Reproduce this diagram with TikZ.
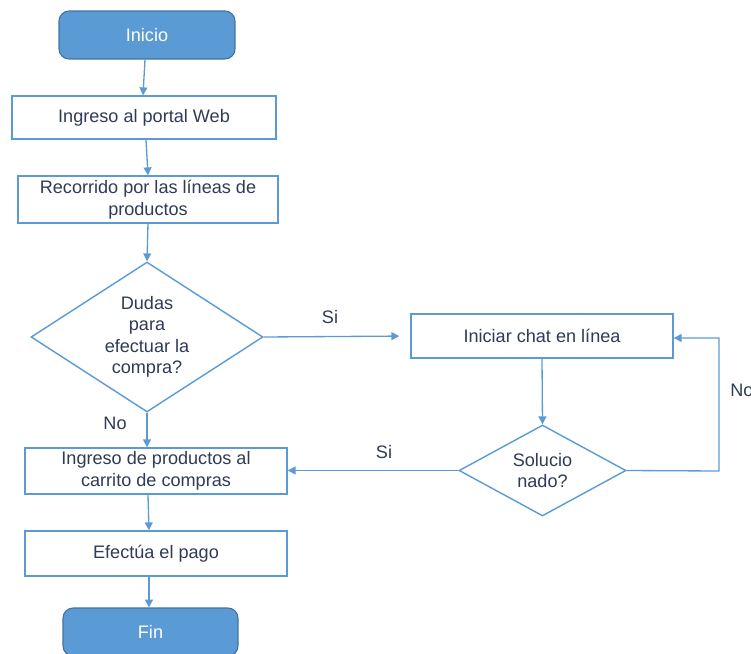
\documentclass[tikz,border=0pt]{standalone}
\usepackage{fontspec}
\setmainfont{Liberation Sans}
\usetikzlibrary{shapes.geometric,arrows.meta}
\definecolor{lineblue}{HTML}{5B9BD5}
\definecolor{fillblue}{HTML}{5B9BD5}
\definecolor{edgeblue}{HTML}{41719C}
\definecolor{txt}{HTML}{2F3B57}
\tikzset{
  px/.style={x=0.02cm,y=-0.02cm},
  base/.style={font=\fontsize{10.3}{12.2}\selectfont, text=txt, align=center, inner sep=0pt},
  procbox/.style={base, draw=lineblue, line width=0.8pt, fill=white},
  termbox/.style={base, draw=edgeblue, line width=0.6pt, fill=fillblue, text=white, rounded corners=0.2cm},
  decbox/.style={base, shape=diamond, draw=lineblue, line width=0.8pt, fill=white},
  arr/.style={draw=lineblue, line width=0.75pt, -{Triangle[width=4.5pt,length=4.5pt]}},
  lbl/.style={font=\fontsize{10.3}{12.2}\selectfont, text=txt, inner sep=0pt},
}
\begin{document}
\begin{tikzpicture}[px]
\useasboundingbox (0,0) rectangle (751,653);
\node[termbox, minimum width=3.52cm, minimum height=0.96cm] (inicio) at (147,35) {Inicio};
\node[procbox, minimum width=5.28cm, minimum height=0.86cm] (portal) at (144,117.5) {Ingreso al portal Web};
\node[procbox, minimum width=5.2cm, minimum height=0.94cm] (recorrido) at (148,199.5) {Recorrido por las líneas de\\productos};
\node[decbox, aspect=1.55, minimum width=4.64cm, minimum height=3.0cm] (dudas) at (147,337) {Dudas\\para\\efectuar la\\compra?};
\node[procbox, minimum width=5.24cm, minimum height=0.88cm] (chat) at (542,336) {Iniciar chat en línea};
\node[decbox, aspect=1.83, minimum width=3.34cm, minimum height=1.82cm] (sol) at (542.5,470.5) {Solucio\\nado?};
\node[procbox, minimum width=5.24cm, minimum height=0.92cm] (carrito) at (156,471) {Ingreso de productos al\\carrito de compras};
\node[procbox, minimum width=5.24cm, minimum height=0.9cm] (pago) at (156,553.5) {Efectúa el pago};
\node[termbox, minimum width=3.5cm, minimum height=0.96cm] (fin) at (150.5,632) {Fin};
\coordinate (loopR) at (719,471);
\coordinate (loopT) at (719,338);
\draw[arr] (inicio.south -| 145,0) -- (portal.north -| 143,0);
\draw[arr] (portal.south -| 146,0) -- (recorrido.north -| 148,0);
\draw[arr] (recorrido.south -| 148,0) -- (dudas.north);
\draw[arr, shorten >=0.22cm] (dudas.east) -- (chat.west);
\draw[arr] (dudas.south) -- (carrito.north -| dudas.south);
\draw[arr] (chat.south) -- (sol.north);
\draw[arr] (sol.west) -- (carrito.east |- sol.west);
\draw[arr] (sol.east) -- (loopR) -- (loopT) -- (chat.east |- loopT);
\draw[arr] (carrito.south -| 148,0) -- (pago.north -| 149,0);
\draw[arr] (pago.south -| 149,0) -- (fin.north -| 149,0);
\node[lbl] (si1) at (330,317) {Si};
\node[lbl] (no1) at (115,423) {No};
\node[lbl] (si2) at (384,452) {Si};
\node[lbl, anchor=west] (no2) at (730,390) {No};
\end{tikzpicture}
\end{document}
